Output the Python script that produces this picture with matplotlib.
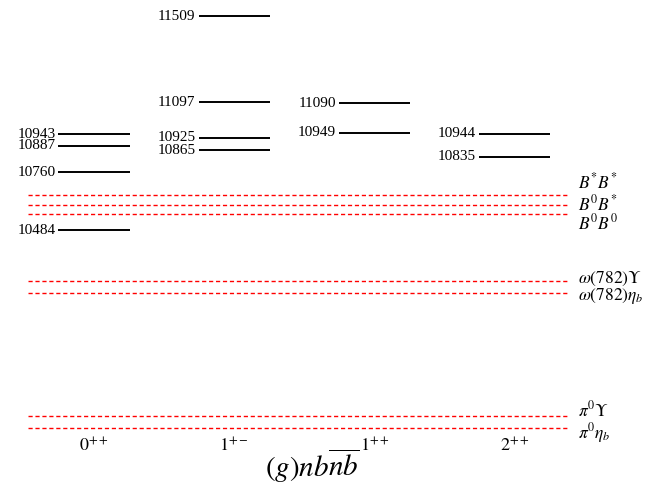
import matplotlib
matplotlib.use("Agg")
import matplotlib.pyplot as plt

plt.rcParams['font.family'] = ['Liberation Serif', 'DejaVu Serif']
plt.rcParams['mathtext.fontset'] = 'stix'

# Data
columns = [r"$0^{++}$", r"$1^{+-}$", r"$1^{++}$", r"$2^{++}$"]
levels_0pp = [10943, 10887, 10760, 10484]
levels_1pm = [11509, 11097, 10925, 10865]
levels_1pp = [11090, 10949]
levels_2pp = [10944, 10835]
threshold_labels = [r"$B^{*}B^{*}$", r"$B^{0}B^{*}$", r"$B^{0}B^{0}$",
                    r"$\omega\left(782\right)\Upsilon$", r"$\omega\left(782\right)\eta_b$",
                    r"$\pi^{0}\Upsilon$", r"$\pi^{0}\eta_b$"]
threshold_values = [10650, 10605, 10560, 10242, 10181, 9595, 9534]
label_offsets = [9, 0, -6.5, 1.5, -2, 3.5, -3.5]  # points, to avoid overlap
title = r"$(g)nb\overline{nb}$"

all_levels = [levels_0pp, levels_1pm, levels_1pp, levels_2pp]

fig = plt.figure(figsize=(6.49, 4.84), dpi=100)
ax = fig.add_axes([0, 0, 1, 1])
px = 140.2
ax.set_xlim(-94 / px, (649 - 94) / px)
mev_per_px = 4.79
ax.set_ylim(10484 - 254 * mev_per_px, 10484 + 230 * mev_per_px)
ax.axis('off')

hw = 0.254
for i, levs in enumerate(all_levels):
    for e in levs:
        ax.plot([i - hw, i + hw], [e, e], color='black', lw=1.4, solid_capstyle='butt')
        ax.text(i - hw - 0.022, e, str(e), ha='right', va='center', fontsize=11)

x0 = (28 - 94) / px
x1 = (568 - 94) / px
for lab, val, off in zip(threshold_labels, threshold_values, label_offsets):
    ax.plot([x0, x1], [val, val], color='red', lw=1.0, ls=(0, (3, 2)))
    ax.annotate(lab, xy=(x1 + 0.07, val), xytext=(0, off), textcoords='offset points',
                ha='left', va='center', fontsize=12.5)

ybot = 10484 - (446 - 230) * mev_per_px
for i, c in enumerate(columns):
    ax.text(i, ybot, c, ha='center', va='center', fontsize=13)

ax.text((312 - 94) / px, 10484 - (466 - 230) * mev_per_px, title,
        ha='center', va='center', fontsize=21)

fig.savefig("out.png", dpi=100)
